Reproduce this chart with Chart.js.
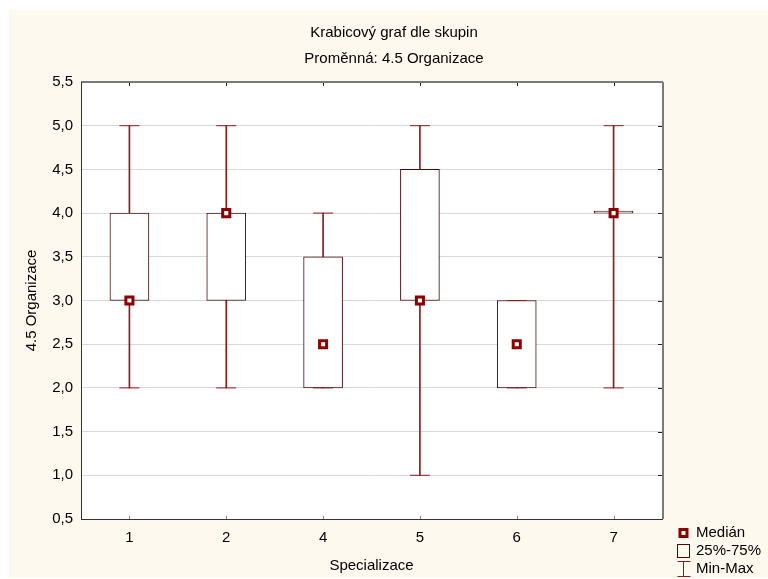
<!DOCTYPE html>
<html>
<head>
<meta charset="utf-8">
<script src="https://cdn.jsdelivr.net/npm/chart.js@4/dist/chart.umd.min.js"></script>
<style>
  html, body { margin: 0; padding: 0; background: #ffffff; }
  canvas { display: block; }
</style>
</head>
<body>
<canvas id="chart" width="768" height="579"></canvas>
<script>
// Box plot per specialisation group for variable 4.5 Organizace
const categories   = ['1', '2', '4', '5', '6', '7'];
const minValues    = [2, 2, 2,   1, 2,   2];
const q1Values     = [3, 3, 2,   3, 2,   4];
const medianValues = [3, 4, 2.5, 3, 2.5, 4];
const q3Values     = [4, 4, 3.5, 4.5, 3, 4];
const maxValues    = [5, 5, 4,   5, 3,   5];

const yMin = 0.5, yMax = 5.5, yStep = 0.5;

const titleText    = 'Krabicový graf dle skupin';
const subtitleText = 'Proměnná: 4.5 Organizace';
const xTitle       = 'Specializace';
const yTitle       = '4.5 Organizace';
const legendLabels = ['Medián', '25%-75%', 'Min-Max'];

const FONT = "'Liberation Sans', Arial, sans-serif";
const WHISKER = '#8e1a1a';
const BOXLINE = '#4a0808';
const MEDIAN  = '#8b0000';

const rangeData = categories.map((c, i) => [minValues[i], maxValues[i]]);
const boxData   = categories.map((c, i) => [q1Values[i], q3Values[i]]);

// Cream page backdrop with white plotting area
const backdrop = {
  id: 'backdrop',
  beforeDraw(chart) {
    const { ctx, chartArea: a, width, height } = chart;
    ctx.save();
    ctx.fillStyle = '#ffffff';
    ctx.fillRect(0, 0, width, height);
    ctx.fillStyle = '#fdf9ee';
    ctx.fillRect(9, 10, width - 9, height - 11);
    ctx.fillStyle = '#ffffff';
    ctx.fillRect(a.left, a.top, a.width, a.height);
    ctx.restore();
  }
};

// Two-line heading, centred over the page body
const heading = {
  id: 'heading',
  afterDraw(chart) {
    const { ctx, width } = chart;
    const cx = (width + 20) / 2;
    ctx.save();
    ctx.fillStyle = '#000000';
    ctx.font = '15px ' + FONT;
    ctx.textAlign = 'center';
    ctx.textBaseline = 'middle';
    ctx.fillText(titleText, cx, 33);
    ctx.fillText(subtitleText, cx, 59);
    ctx.restore();
  }
};

// Plot frame with inward tick marks
const frame = {
  id: 'frame',
  afterDraw(chart) {
    const { ctx, chartArea: a, scales: { x, y } } = chart;
    const seg = (x1, y1, x2, y2) => { ctx.beginPath(); ctx.moveTo(x1, y1); ctx.lineTo(x2, y2); ctx.stroke(); };
    ctx.save();
    ctx.lineWidth = 1;
    ctx.strokeStyle = '#222222';
    x.ticks.forEach((t, i) => {
      const px = Math.round(x.getPixelForTick(i)) + 0.5;
      seg(px, a.top, px, a.top + 4);
    });
    y.ticks.forEach((t, i) => {
      const py = Math.round(y.getPixelForTick(i)) + 0.5;
      seg(a.right, py, a.right - 4, py);
    });
    ctx.strokeStyle = '#888888';
    x.ticks.forEach((t, i) => {
      const px = Math.round(x.getPixelForTick(i)) + 0.5;
      seg(px, a.bottom, px, a.bottom - 3);
    });
    ctx.strokeStyle = '#7a7a7a';
    ctx.lineWidth = 2;
    seg(a.left, a.top, a.right + 1, a.top);
    seg(a.right + 1, a.top, a.right + 1, a.bottom);
    ctx.strokeStyle = '#333333';
    ctx.lineWidth = 1;
    seg(a.left + 0.5, a.top, a.left + 0.5, a.bottom + 0.5);
    seg(a.left, a.bottom + 0.5, a.right + 1, a.bottom + 0.5);
    ctx.restore();
  }
};

// Key in the lower right corner
const keyBox = {
  id: 'keyBox',
  afterDraw(chart) {
    const { ctx, chartArea: a } = chart;
    const cx = a.right + 21.5;
    const tx = a.right + 34;
    const rows = [a.bottom + 14, a.bottom + 32, a.bottom + 50];
    ctx.save();
    // median marker
    ctx.strokeStyle = MEDIAN; ctx.lineWidth = 3;
    ctx.strokeRect(cx - 3.5, rows[0] - 3.5, 7, 7);
    // quartile box
    ctx.strokeStyle = BOXLINE; ctx.lineWidth = 1;
    ctx.strokeRect(cx - 6, rows[1] - 6.5, 12, 13);
    // range symbol
    ctx.strokeStyle = WHISKER;
    ctx.beginPath();
    ctx.moveTo(cx - 6, rows[2] - 7.5); ctx.lineTo(cx + 7, rows[2] - 7.5);
    ctx.moveTo(cx, rows[2] - 7.5); ctx.lineTo(cx, rows[2] + 7.5);
    ctx.moveTo(cx - 6, rows[2] + 7.5); ctx.lineTo(cx + 7, rows[2] + 7.5);
    ctx.stroke();
    ctx.fillStyle = '#000000';
    ctx.font = '15px ' + FONT;
    ctx.textBaseline = 'middle';
    ctx.textAlign = 'left';
    legendLabels.forEach((t, i) => ctx.fillText(t, tx, rows[i]));
    ctx.restore();
  }
};

new Chart(document.getElementById('chart'), {
  data: {
    labels: categories,
    datasets: [
      {
        type: 'bar', label: 'Min-Max', data: rangeData,
        backgroundColor: WHISKER, borderWidth: 0,
        barThickness: 1, grouped: false, order: 4
      },
      {
        type: 'bar', label: '25%-75%', data: boxData,
        backgroundColor: '#ffffff', borderColor: BOXLINE, borderWidth: 1,
        borderSkipped: false, barThickness: 39, grouped: false,
        minBarLength: 2, order: 3
      },
      {
        type: 'line', label: 'Min', data: minValues, showLine: false,
        pointStyle: 'line', pointRadius: 10, pointBorderWidth: 1,
        pointBorderColor: WHISKER, borderColor: WHISKER, order: 2
      },
      {
        type: 'line', label: 'Max', data: maxValues, showLine: false,
        pointStyle: 'line', pointRadius: 10, pointBorderWidth: 1,
        pointBorderColor: WHISKER, borderColor: WHISKER, order: 2
      },
      {
        type: 'line', label: 'Medián', data: medianValues, showLine: false,
        pointStyle: 'rect', pointRadius: 5, pointBorderWidth: 3,
        pointBackgroundColor: '#ffffff', pointBorderColor: MEDIAN, order: 1
      }
    ]
  },
  options: {
    responsive: false,
    animation: false,
    events: [],
    layout: { padding: { left: 0, right: 106, top: 82, bottom: 0 } },
    plugins: {
      legend: { display: false },
      tooltip: { enabled: false },
      title: { display: false },
      subtitle: { display: false }
    },
    scales: {
      x: {
        type: 'category', offset: true,
        grid: { display: false, drawTicks: false },
        border: { display: false },
        ticks: { color: '#000000', font: { family: FONT, size: 15 }, padding: 10 },
        title: {
          display: true, text: xTitle, color: '#000000',
          font: { family: FONT, size: 15 }, padding: { top: 0, bottom: 4 }
        },
        afterFit(scale) { scale.height = 60; }
      },
      y: {
        type: 'linear', min: yMin, max: yMax,
        grid: { color: '#d9d9d9', lineWidth: 1, drawTicks: false },
        border: { display: false },
        ticks: {
          stepSize: yStep, color: '#000000', padding: 8,
          font: { family: FONT, size: 15 },
          callback: v => v.toFixed(1).replace('.', ',')
        },
        title: {
          display: true, text: yTitle, color: '#000000',
          font: { family: FONT, size: 15 }, padding: { top: 23, bottom: 0 }
        },
        afterFit(scale) { scale.width = 81; }
      }
    }
  },
  plugins: [backdrop, frame, keyBox, heading]
});
</script>
</body>
</html>
